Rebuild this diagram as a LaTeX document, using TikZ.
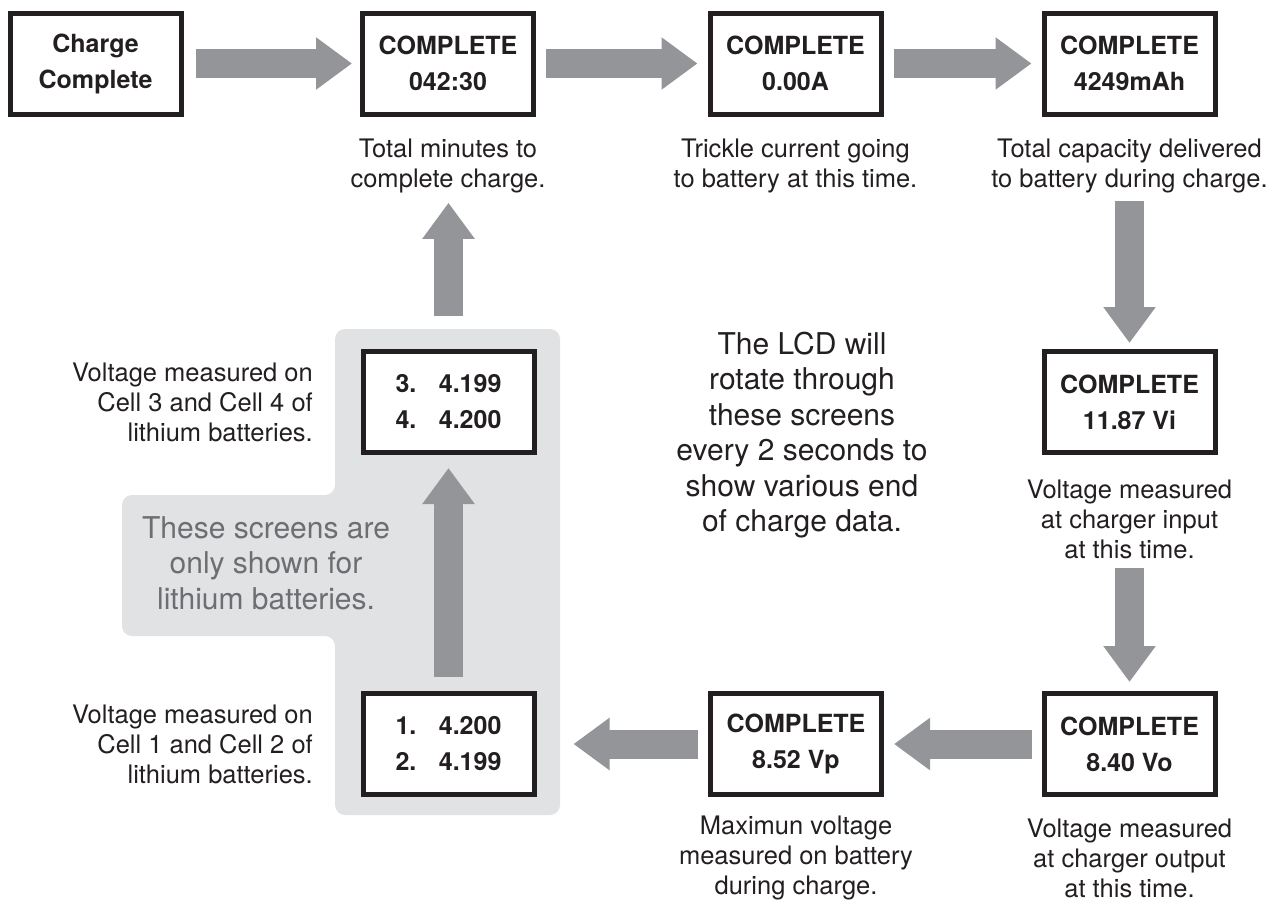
\documentclass[tikz,border=0pt]{standalone}
\usepackage{xcolor}
\usepackage{fontspec}
\setmainfont{TeX Gyre Heros}
\usetikzlibrary{positioning,arrows.meta}
\definecolor{ink}{HTML}{231F20}
\definecolor{arrowgrey}{HTML}{939598}
\definecolor{panelgrey}{HTML}{E1E2E4}
\definecolor{notegrey}{HTML}{6D6E71}
\newcommand{\cellpair}[2]{#1.\hspace{0.9em}#2}

\begin{document}
\begin{tikzpicture}[x=1pt, y=-1pt, node distance=100pt and 100pt, on grid, text=ink,
screen/.style={rectangle, draw=ink, line width=5pt, fill=white,
  minimum width=171pt, minimum height=101pt, align=center,
  font=\bfseries\fontsize{25}{36}\selectfont},
note/.style={align=center, inner sep=0pt, font=\fontsize{25.5}{30}\selectfont},
bignote/.style={align=center, inner sep=0pt, font=\fontsize{30}{35.5}\selectfont},
flow/.style={draw=arrowgrey, line width=29pt, -{Triangle[width=50pt,length=36pt]},
  shorten <=10pt, shorten >=10pt}]
\useasboundingbox (0,0) rectangle (1269,902);

\fill[panelgrey, rounded corners=10pt] (335,329) -- (560,329) -- (560,815) -- (335,815)
  -- (335,636) -- (122,636) -- (122,495) -- (335,495) -- cycle;

\node[screen] (Charge) at (95.5,63.5) {Charge\\Complete};
\node[screen] (Minutes) [right=352.5pt of Charge] {COMPLETE\\042:30};
\node[screen] (Trickle) [right=347.5pt of Minutes] {COMPLETE\\0.00A};
\node[screen] (Capacity) [right=334pt of Trickle] {COMPLETE\\4249mAh};
\node[screen] (VoltIn) [below=338.5pt of Capacity] {COMPLETE\\11.87 Vi};
\node[screen] (VoltOut) [below=342pt of VoltIn] {COMPLETE\\8.40 Vo};
\node[screen] (VoltPeak) [left=333.5pt of VoltOut] {COMPLETE\\8.52 Vp};
\node[screen] (CellsA) [left=347.5pt of VoltPeak] {\cellpair{1}{4.200}\\\cellpair{2}{4.199}};
\node[screen] (CellsB) [above=342pt of CellsA] {\cellpair{3}{4.199}\\\cellpair{4}{4.200}};

\node[note] (MinutesNote) [below=102pt of Minutes] {Total minutes to\\complete charge.};
\node[note] (TrickleNote) [below=102pt of Trickle] {Trickle current going\\to battery at this time.};
\node[note] (CapacityNote) [below=102pt of Capacity] {Total capacity delivered\\to battery during charge.};
\node[note] (VoltInNote) [below=117pt of VoltIn] {Voltage measured\\at charger input\\at this time.};
\node[note] (VoltOutNote) [below=114pt of VoltOut] {Voltage measured\\at charger output\\at this time.};
\node[note] (VoltPeakNote) [below=114pt of VoltPeak] {Maximun voltage\\measured on battery\\during charge.};
\node[note, align=right, anchor=east] (CellsANote) at (313,744) {Voltage measured on\\Cell 1 and Cell 2 of\\lithium batteries.};
\node[note, align=right, anchor=east] (CellsBNote) at (313,402) {Voltage measured on\\Cell 3 and Cell 4 of\\lithium batteries.};

\node[bignote] (Rotate) at (802,435) {The LCD will\\rotate through\\these screens\\every 2 seconds to\\show various end\\of charge data.};
\node[bignote, text=notegrey] (Lithium) at (266,563) {These screens are\\only shown for\\lithium batteries.};

\draw[flow, shorten <=12pt, shorten >=8pt] (Charge) -- (Minutes);
\draw[flow] (Minutes) -- (Trickle);
\draw[flow] (Trickle) -- (Capacity);
\draw[flow, shorten <=8pt, shorten >=6pt] (CapacityNote) -- (VoltIn);
\draw[flow, shorten <=9pt, shorten >=9pt] (VoltInNote) -- (VoltOut);
\draw[flow] (VoltOut) -- (VoltPeak);
\draw[flow, shorten >=37pt] (VoltPeak) -- (CellsA);
\draw[flow, shorten <=14pt, shorten >=13pt] (CellsA) -- (CellsB);
\draw[flow, shorten <=33pt, shorten >=10pt] (CellsB.north) -- (CellsB.north |- MinutesNote.south);
\end{tikzpicture}
\end{document}
